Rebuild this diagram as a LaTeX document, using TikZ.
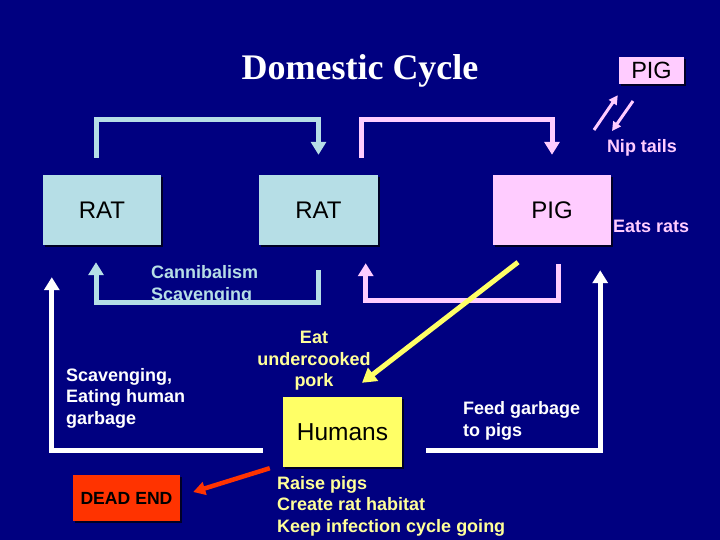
\documentclass[tikz,border=0pt]{standalone}
\usepackage{fontspec}
\setmainfont{Liberation Sans}
\newfontfamily\titlefont{Liberation Serif}
\usetikzlibrary{arrows.meta,shadows}
\definecolor{navy}{RGB}{0,0,128}
\definecolor{ratblue}{RGB}{182,222,230}
\definecolor{pigpink}{RGB}{255,204,255}
\definecolor{humyel}{RGB}{255,255,102}
\definecolor{txtyel}{RGB}{255,255,153}
\definecolor{deadred}{RGB}{255,51,0}
\tikzset{
  box/.style={draw=none, minimum width=118pt, minimum height=70pt, inner sep=0pt,
    font=\fontsize{24}{28}\selectfont, text=black,
    drop shadow={shadow xshift=2pt, shadow yshift=-2pt, fill=black, opacity=0.7}},
  lbl/.style={inner sep=0pt, font=\bfseries\fontsize{18}{21.5}\selectfont},
  conn/.style={line width=5pt, line join=miter, -{Triangle[width=15pt,length=13pt]}},
  bconn/.style={conn, draw=ratblue},
  pconn/.style={conn, draw=pigpink},
  wconn/.style={conn, draw=white},
}
\begin{document}
\begin{tikzpicture}[x=1pt,y=-1pt]
\fill[navy] (0,0) rectangle (720,540);
\useasboundingbox (0,0) rectangle (720,540);

\node[text=white, font=\titlefont\bfseries\fontsize{36}{40}\selectfont] (title) at (360,71) {Domestic Cycle};

\node[box, fill=ratblue] (rat1) at (102,210) {RAT};
\node[box, fill=ratblue, minimum width=119pt] (rat2) at (318.5,210) {RAT};
\node[box, fill=pigpink] (pig) at (552,210) {PIG};
\node[box, fill=pigpink, minimum width=65pt, minimum height=27pt, font=\fontsize{23.5}{26}\selectfont] (pigtop) at (651.5,70.5) {PIG};
\node[box, fill=humyel, minimum width=119pt, font=\fontsize{24.5}{28}\selectfont] (humans) at (342.5,432) {Humans};
\node[box, fill=deadred, minimum width=107pt, minimum height=46pt, font=\bfseries\fontsize{17.6}{20}\selectfont] (dead) at (126.5,498) {DEAD END};

% rat cycle
\draw[bconn] ([xshift=-6pt,yshift=17pt]rat1.north) -- ++(0,-38) -| ([yshift=20pt]rat2.north);
\draw[bconn] ([yshift=-25pt]rat2.south) -- ++(0,32) -| ([xshift=-6pt,yshift=-17pt]rat1.south);
% pig cycle
\draw[pconn] ([xshift=-16.5pt,yshift=17pt]rat2.north east) -- ++(0,-38) -| ([yshift=20pt]pig.north);
\draw[pconn] ([xshift=6pt,yshift=-19pt]pig.south) -- ++(0,36) -| ([xshift=-12.5pt,yshift=-18pt]rat2.south east);
% humans
\draw[wconn] ([xshift=-20pt,yshift=-18pt]humans.west) -| ([xshift=9pt,yshift=-32pt]rat1.south west);
\draw[wconn] ([xshift=24pt,yshift=-18pt]humans.east) -| ([xshift=-11pt,yshift=-25pt]pig.south east);
% yellow
\draw[line width=5pt, draw=humyel, -{Triangle[width=16pt,length=14pt]}] ([xshift=-34pt,yshift=-17pt]pig.south) -- ([xshift=19.5pt,yshift=14pt]humans.north);
% red
\draw[line width=4.5pt, draw=deadred, -{Triangle[width=13pt,length=12pt]}] ([xshift=-13pt,yshift=-1pt]humans.south west) -- ([xshift=13pt,yshift=6pt]dead.east);
% nip tails arrows
\coordinate (n1) at (594,130);
\coordinate (n2) at (633,101);
\draw[line width=3pt, draw=pigpink, -{Triangle[width=9pt,length=9pt]}] (n1) -- ([xshift=-1pt,yshift=-11pt]pigtop.south west);
\draw[line width=3pt, draw=pigpink, -{Triangle[width=9pt,length=9pt]}] (n2) -- (612,131);

% labels
\node[lbl, text=ratblue, anchor=west, align=left] (cann) at (151,285) {Cannibalism\\Scavenging};
\node[lbl, text=pigpink] (nip) at (642,148) {Nip tails};
\node[lbl, text=pigpink, anchor=west] (eats) at (613,226) {Eats rats};
\node[lbl, text=white, anchor=west, align=left] (scav) at (66,398) {Scavenging,\\Eating human\\garbage};
\node[lbl, text=txtyel, align=center] (eat) at (314,361) {Eat\\undercooked\\pork};
\node[lbl, text=white, anchor=west, align=left] (feed) at (463,421) {Feed garbage\\to pigs};
\node[lbl, text=txtyel, anchor=west, align=left] (raise) at (277,506) {Raise pigs\\Create rat habitat\\Keep infection cycle going};
\end{tikzpicture}
\end{document}
